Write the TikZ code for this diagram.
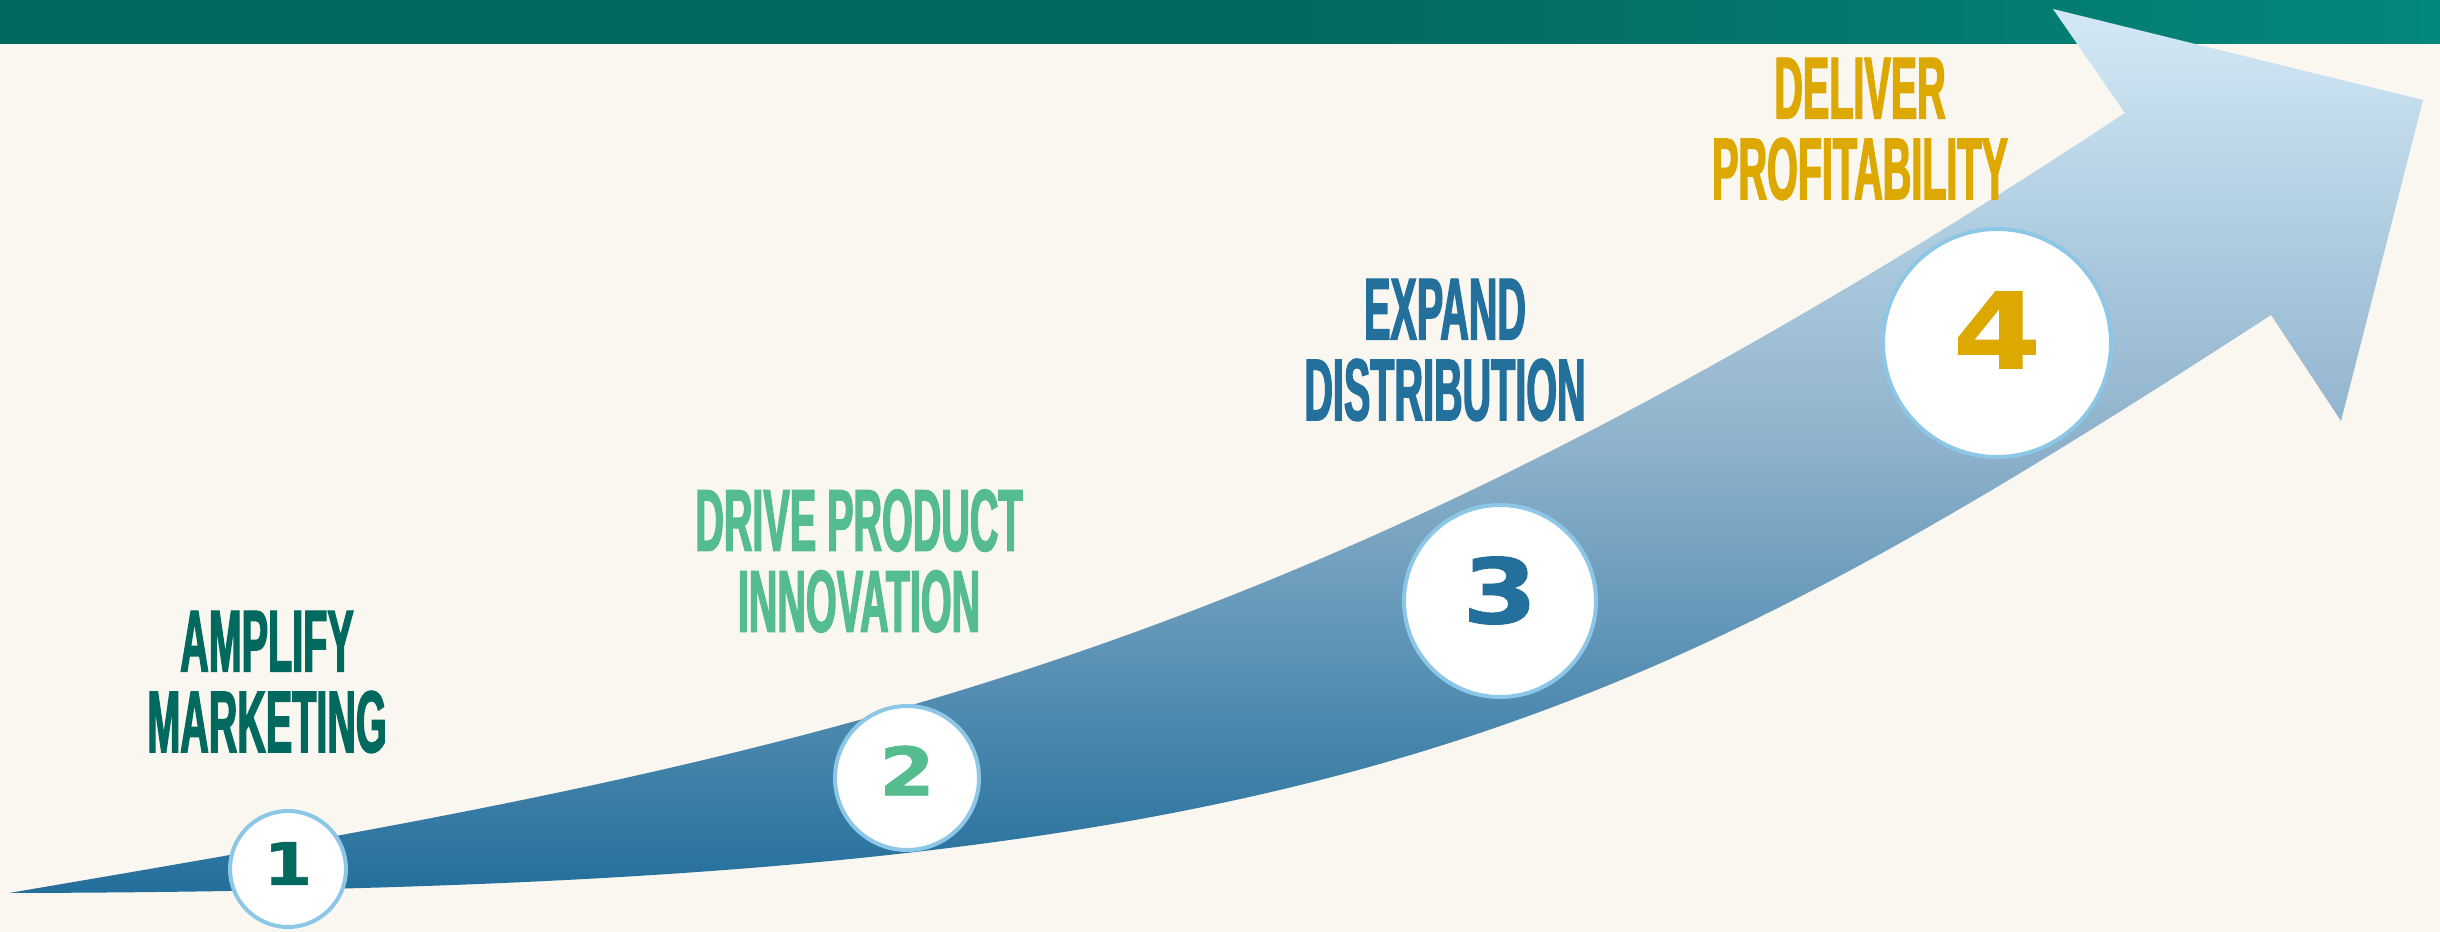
\documentclass[tikz,border=0pt]{standalone}
\usepackage{fontspec}
\setmainfont{Liberation Sans}
\newfontfamily\headfont[FakeStretch=0.45, FakeBold=1.5]{Liberation Sans}
\newfontfamily\numfont[FakeStretch=1.2, FakeBold=1]{DejaVu Sans}

\definecolor{cream}{HTML}{FAF6F0}
\definecolor{bartealdark}{HTML}{02695E}
\definecolor{bartealmid}{HTML}{02675C}
\definecolor{bareteallight}{HTML}{04877C}
\definecolor{amplify}{HTML}{02695E}
\definecolor{drive}{HTML}{55BC8F}
\definecolor{expand}{HTML}{22709B}
\definecolor{deliver}{HTML}{DDA800}
\definecolor{ringblue}{HTML}{8DC7E8}
\definecolor{arrowdark}{HTML}{236F9B}
\definecolor{arrowmid}{HTML}{8DB1CB}
\definecolor{arrowlight}{HTML}{D3E9F6}

\tikzset{
	steplabel/.style={align=center, inner sep=0pt,
		font={\headfont\bfseries\fontsize{25}{23}\selectfont}},
	stepcircle/.style={circle, draw=ringblue, line width=0.4mm, fill=white, inner sep=0pt},
	stepnum/.style={inner sep=0pt},
}

\begin{document}
\begin{tikzpicture}[x=0.1mm, y=-0.1mm]
	\useasboundingbox (0,0) rectangle (2440,932);
	\fill[cream] (0,0) rectangle (2440,932);

	% header band
	\shade[left color=bartealdark, right color=bareteallight, middle color=bartealmid]
		(0,0) rectangle (2440,44);

	% growth arrow
	\shade[top color=arrowlight, bottom color=arrowdark, middle color=arrowmid]
		(9,893) .. controls (809,757) and (1275,674) .. (2125,113)
		-- (2053,9) -- (2423,100) -- (2341,421) -- (2271,315)
		.. controls (1600,750) and (1300,890) .. (9,893)
		-- cycle;

	% step circles
	\node[stepcircle, minimum size=11.6mm] (c1) at (288,869) {};
	\node[stepcircle, minimum size=14.4mm] (c2) at (907,778) {};
	\node[stepcircle, minimum size=19.2mm] (c3) at (1500,601) {};
	\node[stepcircle, minimum size=22.8mm] (c4) at (1997,343) {};

	\node[stepnum, text=amplify, font={\numfont\bfseries\fontsize{16.7}{17}\selectfont}]
		(n1) at ([yshift=0.55mm]c1.center) {1};
	\node[stepnum, text=drive, font={\numfont\bfseries\fontsize{19}{19}\selectfont}]
		(n2) at ([yshift=0.75mm]c2.center) {2};
	\node[stepnum, text=expand, font={\numfont\bfseries\fontsize{25.6}{26}\selectfont}]
		(n3) at ([yshift=1.05mm]c3.center) {3};
	\node[stepnum, text=deliver, font={\numfont\bfseries\fontsize{30}{30}\selectfont}]
		(n4) at ([yshift=1.3mm]c4.center) {4};

	% step labels
	\node[steplabel, text=amplify] (amplify) at (267,682) {AMPLIFY\\MARKETING};
	\node[steplabel, text=drive] (drive) at (859,561) {DRIVE PRODUCT\\INNOVATION};
	\node[steplabel, text=expand] (expand) at (1445,350) {EXPAND\\DISTRIBUTION};
	\node[steplabel, text=deliver] (deliver) at (1860,129) {DELIVER\\PROFITABILITY};
\end{tikzpicture}
\end{document}
